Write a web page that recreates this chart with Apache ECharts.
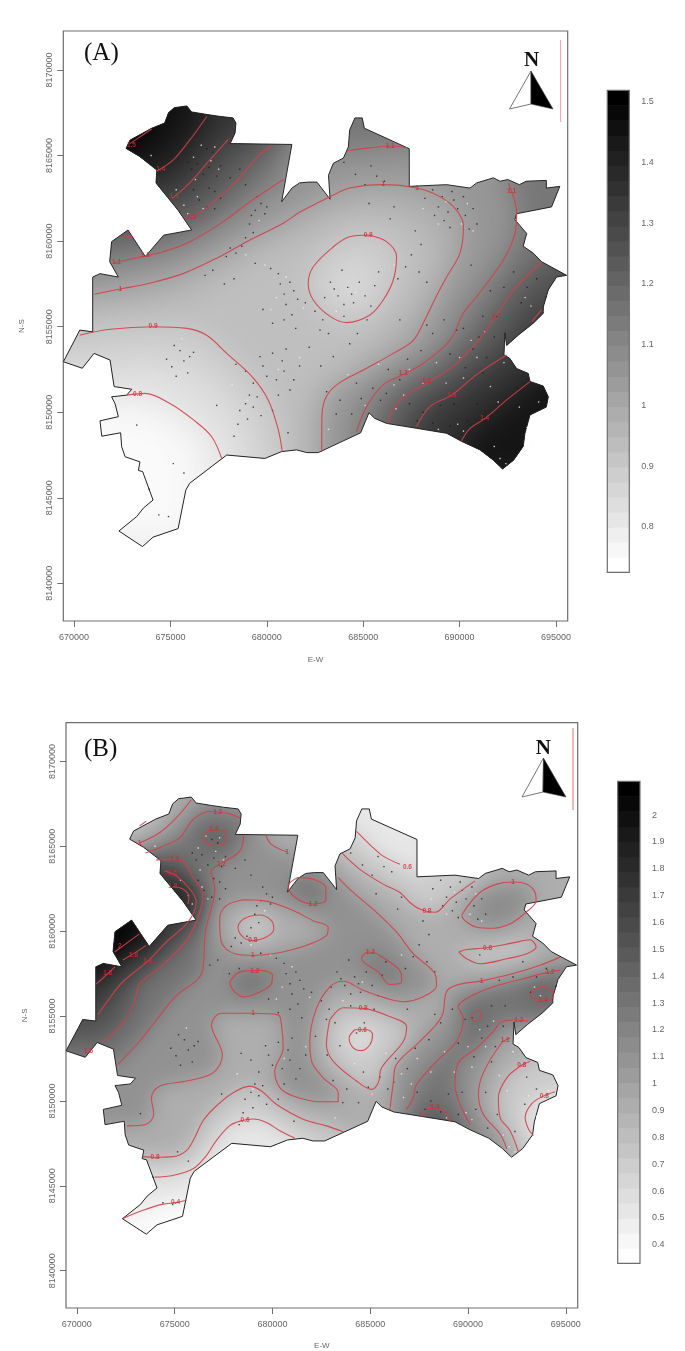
<!DOCTYPE html>
<html><head><meta charset="utf-8">
<style>html,body{margin:0;padding:0;background:#fff}#c{width:685px;height:1351px}</style>
<script src="https://cdn.jsdelivr.net/npm/echarts@6/dist/echarts.min.js"></script>
</head><body><div id="c"></div>
<script>
// All map coordinates in km (easting, northing).
const eastTicks=[670000,675000,680000,685000,690000,695000];
const northTicks=[8140000,8145000,8150000,8155000,8160000,8165000,8170000];
const scaleTicksA=[0.8,0.9,1,1.1,1.2,1.3,1.4,1.5];
const scaleTicksB=[0.4,0.5,0.6,0.7,0.8,0.9,1,1.1,1.2,1.3,1.4,1.5,1.6,1.7,1.8,1.9,2];

const boundary=[[672.7,8165.42],[672.9,8165.9],[674.03,8166.6],[674.7,8166.9],[674.9,8167.5],[675.2,8167.8],[675.85,8167.9],[676.1,8167.55],[676.9,8167.4],[677.5,8167.3],[678.25,8167.2],[678.4,8166.9],[678.35,8166.3],[678.1,8165.7],[681.3,8165.65],[680.77,8162.3],[681.3,8163.1],[681.7,8163.4],[682.15,8163.45],[682.6,8163.45],[683.28,8162.45],[683.2,8163.85],[683.45,8164.55],[683.97,8164.85],[684.23,8165.5],[684.3,8166.5],[684.57,8167.2],[684.95,8167.2],[685.06,8166.6],[687.39,8165.4],[687.39,8163.2],[689.33,8163.3],[690.54,8163.1],[690.88,8163.4],[691.75,8163.7],[692.1,8163.5],[692.5,8163.6],[693.1,8163.3],[693.45,8163.5],[694.5,8163.55],[694.5,8163.1],[695.2,8163.2],[694.77,8162],[692.96,8161.6],[692.87,8161.25],[693.48,8160.45],[693.3,8159.7],[693.82,8159.3],[694.25,8158.8],[695.55,8158],[695.03,8157.9],[694.6,8157.15],[694.34,8156.15],[694.34,8155.78],[693.82,8155.2],[693.04,8154.5],[692.44,8153.9],[692.35,8154.65],[692.3,8153.35],[692.6,8153.15],[692.96,8152.55],[693.56,8152.27],[693.65,8151.8],[694.34,8151.53],[694.6,8150.9],[694.5,8150.3],[693.65,8149.84],[693.39,8148.77],[693.3,8148],[692.8,8147.2],[692.23,8146.68],[691.75,8147.2],[691.06,8147.8],[690.1,8148.3],[689.33,8148.77],[687.77,8149.06],[686.2,8149.35],[685.6,8149.64],[685.3,8149.97],[684.87,8148.8],[682.67,8147.64],[682.07,8147.64],[681.55,8147.8],[680.77,8147.7],[679.9,8147.3],[677.92,8147.5],[676,8145.85],[675.8,8145.45],[675.4,8143.2],[674.1,8142.7],[673.55,8142.15],[672.33,8143.06],[673.25,8143.9],[673.6,8144.4],[674.1,8144.87],[673.56,8146.53],[673.34,8146.6],[673.42,8147.1],[672.65,8147.4],[672.47,8148],[672.42,8148.8],[671.44,8148.6],[671.35,8149.5],[672.3,8149.74],[672.13,8150.5],[671.95,8150.9],[672.73,8151],[673,8151.34],[672.08,8151.5],[671.87,8153.05],[671.04,8153.44],[670.43,8152.57],[669.45,8152.95],[670.3,8154.8],[670.97,8154.7],[670.97,8157.9],[671.35,8158.1],[672.3,8157.9],[671.85,8158.8],[671.95,8159.97],[672.8,8160.65],[673.7,8159.1],[674.65,8160.35],[676.1,8160.65],[675.4,8161.8],[674.25,8163.4],[674.3,8164.15],[673.4,8164.95]];

// sample points, same survey on both maps
const samplesDark=[[676.9,8165.4],[677.2,8165.2],[675.9,8164.6],[676.1,8164.2],[677,8164.3],[677.4,8163.8],[676.2,8163],[677.3,8162.9],[676.9,8162],[677.3,8161.9],[678.9,8163.3],[678.6,8164.2],[679.7,8162.2],[679.4,8161.8],[679.9,8161.6],[679.1,8161],[679.3,8160.5],[678.7,8159.7],[678.4,8159.3],[677.9,8159.1],[676.8,8158],[677.8,8157.5],[680.2,8158.4],[680.6,8158.1],[681.2,8157.6],[681.4,8157.1],[680.9,8156.9],[681.6,8156.6],[679.8,8156],[680.9,8155.4],[681.5,8154.9],[684,8164.6],[685.4,8164.4],[685.7,8163.8],[686.1,8163.5],[685.3,8162.2],[686.6,8162],[686.4,8161.3],[688.6,8163],[689.1,8162.6],[689.6,8162.9],[688.9,8162],[689.4,8161.7],[689.9,8161.9],[689.2,8161.2],[690.3,8161.5],[690.7,8161.9],[690.9,8161],[688,8159.8],[687.5,8159.2],[687.9,8158.2],[688.3,8157.6],[686.8,8157.8],[685.8,8158.2],[683.9,8158.3],[683.3,8157.6],[684.2,8157.3],[684.8,8157.6],[684.4,8156.9],[683.7,8156.8],[685.1,8156.8],[685.4,8156.2],[684,8156.3],[683,8156.7],[682.5,8155.9],[682.9,8155.4],[675.5,8153.6],[676,8153.25],[675.07,8152.66],[676.2,8153.5],[678.4,8152.8],[679.65,8153.25],[680.3,8153.45],[681,8153.7],[679.8,8152.7],[680.5,8151.9],[681.4,8151.9],[680.9,8152.4],[679.1,8151],[679.3,8150.3],[678.6,8150.1],[679.5,8150.9],[677.4,8150.4],[680.3,8150.1],[678.3,8148.6],[681.1,8148.8],[673.25,8149.25],[675.15,8147],[675.7,8146.45],[674.4,8144],[674.9,8143.9],[673.9,8145.5],[683.8,8150.7],[686.9,8151.9],[687.8,8149.5],[688.6,8154.6],[689.5,8153.4],[690.7,8153.7],[691,8154.4],[689.85,8154.8],[691.9,8155.6],[691.4,8153.2],[690.4,8149.5],[692.4,8148.2],[691,8148.4],[689.5,8149.2],[688.6,8149.35],[684.7,8154.6],[685.2,8155.4],[682.76,8154.8],[684.65,8151.7],[682.8,8152.7],[685.9,8150.7],[686.9,8155.4],[683.45,8153.25],[684.3,8154],[682.2,8153.8],[693.5,8157.3],[694.5,8156.75],[692.3,8157.3],[691.2,8155.6],[685.5,8151.4],[686.2,8151.1],[684.9,8150.8],
[676.4,8164.5],[676.7,8163.9],[677.6,8164.4],[677,8163.1],[676.5,8162.4],[677.6,8162.5],[678.1,8163.7],[679.5,8162.6],[680,8162],[679.2,8161.5],[678.9,8160.2],[678.1,8159.6],[677.2,8158.3],[678.3,8157.8],[679.4,8158.7],[680.7,8157.5],[681,8156.3],[682,8156.4],[681.3,8155.7],[680.3,8155.2],[684.6,8163.9],[685.1,8163.3],[688.2,8162.5],[688.7,8161.5],[689.7,8162.4],[690.2,8162.6],[690.5,8160.7],[689.5,8160.8],[687.7,8160.6],[687.2,8158.5],[684.5,8156.4],[683.5,8157.2],[685.6,8157.4],[684,8155.6],[683.2,8154.6],[675.2,8153.9],[675.7,8153],[675.9,8152.3],[675.3,8152.1],[674.8,8153.1],[678.9,8152.4],[680,8152.1],[679.3,8151.7],[680.8,8153],[681.7,8152.7],[681.2,8151.3],[680.6,8151],[678.9,8150.5],[679,8149.6],[679.7,8149.8],[678.5,8149.3],[683.1,8151.2],[683.6,8149.9],[684.4,8149.9],[686.3,8152.5],[687.3,8153.1],[688,8153.6],[688.3,8155.1],[689.2,8155.4],[690.2,8154.9],[690.3,8152.6],[691.2,8152.3],[691.8,8154.4],[687.4,8150.5],[688.1,8150],[689,8150.4],[689.7,8150.5],[690.9,8150.5],[691.5,8149.2],[692.9,8149.8],[693.5,8150.7],[693,8151.4],[693.2,8156.4],[694,8157.8],[692.8,8158.2],[691.6,8157.1],[690.6,8158.6]];
const samplesLight=[[676.6,8165.6],[677.3,8165.5],[675.3,8163],[676.4,8162.6],[676.7,8161.9],[674,8165],[678.9,8159.2],[679.9,8158.6],[681.9,8156.1],[684.6,8157],[683.6,8155.9],[686.6,8158.6],[689.3,8162.3],[690.1,8161],[690.7,8160.6],[679,8150.7],[678.2,8151.6],[680.6,8152.5],[681.7,8153.2],[684.2,8152.2],[687.4,8152.5],[688.1,8151.7],[690,8153.2],[690.9,8153.2],[691.3,8154.7],[692,8150.6],[692.1,8147.3],[692.4,8147],[693.5,8149.1],[691.8,8148],[686.7,8150.2],[689.9,8149.3],[685.8,8152.8],[693.4,8156.7],[693.7,8156.2],[694.4,8155.9],
[676.2,8164.9],[677.1,8164.7],[677.5,8164.2],[675.7,8162.1],[675.9,8161.6],[676.3,8163.6],[679.6,8161.2],[680.5,8156.7],[681,8157.9],[688.1,8161.9],[688.9,8161],[690.4,8162.2],[687.1,8151],[686.6,8151.6],[685.1,8150.4],[688.8,8152.9],[689.3,8151.7],[690.2,8152],[690.6,8154.2],[691.6,8151.5],[692.3,8152.9],[693.1,8150.3],[694.1,8150.6],[693.8,8148.3],[690.2,8148.9],[688.9,8149],[683.2,8149],[680.2,8156],[675.6,8154.3]];

// ---------- Map A contours ----------
const a15=[[672.9,8165.7],[674.03,8166.55]];
const a14nw=[[674.3,8164.1],[675.15,8164.75],[676,8165.9],[676.9,8167.3]];
const a13nw=[[675.1,8162.5],[676,8163.4],[677.05,8164.75],[678,8165.95]];
const a12nw=[[676.1,8161.4],[677.05,8162.1],[678.45,8163.55],[679.5,8164.9],[680.25,8165.6]];
const a12lobe=[[672.3,8160.2],[673,8160.3]];
const a11nw=[[672.04,8158.74],[673.68,8159.13],[674.63,8159.38],[676.02,8159.97],[677.75,8161.14],[679.13,8162.3],[680.86,8163.6]];
const a11n=[[684.23,8165.3],[685.3,8165.45],[686.4,8165.56],[687.3,8165.45]];
const a10=[[671.05,8156.9],[672.4,8157.2],[673.95,8157.55],[675.65,8158.1],[677.4,8159],[679.1,8160.05],[680.85,8161.05],[681.72,8161.7],[682.75,8162.3],[683.28,8162.6],[684.3,8163.1],[686.04,8163.3],[687.77,8163.1],[688.98,8162.6],[689.85,8161.8],[690.2,8160.85],[690.02,8159.3],[689.33,8157.9],[688.8,8156.8],[688.2,8155.4],[687.6,8154.2],[686.56,8153.44],[685.18,8152.57],[683.62,8151.6],[683,8150.7],[682.85,8149.35],[682.85,8147.7]];
const a11se=[[692.53,8163.4],[692.96,8161.65],[692.87,8160.45],[692.27,8158.9],[690.88,8156.75],[690.19,8155.78],[689.5,8154.2],[688.12,8152.86],[687.08,8152.2],[686.04,8151.6],[685.18,8150.33],[684.66,8148.87]];
const a12se=[[694.25,8158.75],[692.96,8157.35],[691.92,8155.68],[691.06,8154.32],[689.85,8152.86],[688.29,8151.69],[686.9,8150.7],[686.25,8149.35]];
const a13se=[[692.44,8153.35],[690.88,8152.2],[689.59,8151],[688.46,8150.33],[687.77,8149.16]];
const a13tip=[[694.25,8155.98],[693.74,8155.3]];
const a14se=[[693.65,8151.79],[692.44,8150.72],[691.32,8149.64],[690.54,8149.06],[690.1,8148.34]];
const a09island=[[685.26,8160.36],[686.21,8159.97],[686.73,8159.1],[686.56,8157.73],[686.04,8156.56],[685.35,8155.68],[684.14,8155.24],[683.28,8155.6],[682.41,8156.56],[682.15,8157.53],[682.41,8158.5],[683.45,8159.67],[684.3,8160.26],[685.26,8160.36]];
const a09sw=[[670.3,8154.5],[671.87,8154.85],[674.1,8155],[675.85,8154.9],[676.88,8154.5],[677.92,8153.44],[679.3,8152],[680.08,8150.7],[680.6,8148.96],[680.8,8147.7]];
const a08sw=[[672.73,8151],[673.68,8151.1],[675,8150.5],[676.2,8149.55],[677.14,8148.57],[677.66,8147.3]];
const contoursA=[a15,a14nw,a13nw,a12nw,a12lobe,a11nw,a11n,a10,a11se,a12se,a13se,a13tip,a14se,a09island,a09sw,a08sw];
const labelsA=[[672.98,8165.6,'1.5'],[674.5,8164.2,'1.4'],[675.2,8162.6,'1.3'],[676.1,8161.4,'1.2'],[673.7,8159.15,'1.1'],[672.2,8158.75,'1.1'],[672.4,8157.2,'1'],[686.04,8163.3,'1'],[687.8,8163.1,'1'],[686.4,8165.55,'1.1'],[692.7,8162.9,'1.1'],[685.26,8160.36,'0.9'],[674.1,8155,'0.9'],[673.3,8151.05,'0.8'],[687.08,8152.3,'1.1'],[688.29,8151.8,'1.2'],[689.6,8151,'1.3'],[691.3,8149.65,'1.4'],[691.9,8155.6,'1.2']];

// filled regions of map A: [level shown, outline]
const a095=[[668,8155.8],[672,8156],[674,8156.3],[676,8157],[678,8158.3],[680,8159.6],[682,8160.6],[684,8161.6],[686,8161.8],[688,8161],[688.9,8159.5],[688.4,8157.8],[687.4,8156],[686.2,8154.5],[684.5,8153],[682.5,8151.5],[681.9,8149.5],[681.9,8145],[668,8145]];
const a085sw=[[668,8152.8],[671,8152.8],[673.5,8153.1],[676,8152.8],[677.5,8151.5],[678.6,8149.9],[679.2,8148],[679.5,8146],[668,8146]];
const a085island=[[684.5,8158.4],[683.6,8158],[683.5,8157],[684.3,8156.6],[685.2,8157],[685.3,8157.9]];
const a075sw=[[668,8150],[672,8150],[673.5,8149.9],[675,8149],[676,8148],[676.2,8146.5],[675.9,8143],[668,8143]];
const regionsA=[
 [1.15,[[668,8158.4],...a11nw,[681.2,8166.5],[681.2,8172],[668,8172]]],
 [1.15,[[682.5,8165.2],...a11n,[690,8165.7],[690,8172],[682.5,8172]]],
 [1.15,[[692.4,8165.5],...a11se,[684.4,8146],[697.5,8146],[697.5,8165.5]]],
 [1.25,[[668,8160.1],[672.3,8160.2],[673,8160.3],[674.3,8160.9],...a12nw,[681,8166.5],[681,8172],[668,8172]]],
 [1.25,[[695.5,8160],...a12se,[685.8,8146],[697.5,8146],[697.5,8160]]],
 [1.35,[[673.5,8162.3],...a13nw,[679.5,8166.5],[679.5,8172],[668,8172],[668,8162.3]]],
 [1.35,[[695.5,8157],...a13tip,...a13se,[687.3,8146],[697.5,8146],[697.5,8157]]],
 [1.45,[[672.5,8163.9],...a14nw,[677.2,8172],[668,8172],[668,8163.9]]],
 [1.45,[[695,8153],...a14se,[689.6,8146],[697.5,8146],[697.5,8153]]],
 [1.52,[[671.8,8164.8],...a15,[675.2,8172],[668,8172],[668,8164.8]]],
 [0.975,[[668,8156.6],...a10,[682.85,8140],[668,8140]]],
 [0.925,a095],
 [0.875,[[668,8154.2],...a09sw,[680.8,8140],[668,8140]]],
 [0.875,a09island],
 [0.825,a085sw],[0.825,a085island],
 [0.775,[[668,8150.9],...a08sw,[677.7,8140],[668,8140]]],
 [0.74,a075sw]
];

// ---------- Map B contours ----------
const b10nw=[[673.2,8165.2],[674.23,8165.8],[675.08,8166.67],[675.85,8167.74]];
const b08tip=[[673.2,8166.2],[673.55,8166.47]];
const b12top=[[673.51,8164.6],[674.4,8165],[675.26,8165.5],[675.94,8166.57],[676.79,8167.05],[677.64,8166.96],[678.36,8166.66]];
const b12c=[[672.1,8152.14],[673.2,8153.5],[673.89,8154.5],[675,8156.1],[676.41,8157.6],[676.57,8159.94],[677.05,8162.48],[676.87,8163.55],[677.3,8163.94],[678.33,8164.72],[678.53,8165.7]];
const b14a=[[671.33,8153.5],[672.35,8154.6],[672.95,8155.85],[673.2,8156.9],[674.06,8157.7],[675.08,8158.77],[675.77,8159.75],[676.28,8161.1],[676.45,8162.18],[675.94,8163.16],[675.42,8164.13],[675,8164.23],[674.06,8164.2]];
const b16a=[[671.07,8155.07],[671.67,8156.04],[672.35,8157.02],[673.63,8158.23],[674.57,8159.36],[675.68,8160.53],[676.1,8161.7],[675.85,8162.38],[675.08,8163.26],[674.49,8163.55]];
const b18pocket=[[674.91,8162.63],[675.42,8162.48],[675.73,8162],[675.68,8161.6]];
const b18a=[[670.99,8156.88],[671.58,8157.5],[671.95,8157.9]];
const b18b=[[672.35,8158.3],[673,8158.75],[673.55,8159.16]];
const b20=[[671.93,8158.77],[673.2,8159.84]];
const b10top=[[679.66,8165.63],[679.95,8165.1],[680.75,8164.66]];
const b12lobe=[[681.3,8163.16],[680.8,8162.67],[681.14,8162],[682.08,8161.6],[682.73,8161.85],[682.73,8162.57],[682.08,8163.06],[681.3,8163.16]];
const b14circle=[[676.45,8165.5],[676.79,8165.94],[677.47,8165.98],[677.64,8165.5],[677.47,8165.1],[676.96,8165.05],[676.53,8165.24],[676.45,8165.5]];
const b10west=[[678.5,8161.85],[677.64,8161.5],[677.3,8160.72],[677.39,8159.35],[678.07,8158.67],[679,8158.57],[680.89,8158.87],[682.76,8159.74],[682.85,8160.23],[682.08,8160.62],[680.89,8161.3],[679.52,8161.8],[678.5,8161.85]];
const b08west=[[678.84,8160.88],[679.35,8160.95],[679.95,8160.62],[680.07,8160.13],[679.69,8159.65],[679,8159.45],[678.5,8159.65],[678.24,8160.23],[678.41,8160.62],[678.84,8160.88]];
const b12small=[[677.82,8157],[678.33,8157.6],[679.35,8157.69],[680,8157.4],[679.95,8156.9],[679.18,8156.33],[678.5,8156.13],[677.99,8156.52],[677.82,8157]];
const b10main=[[672.56,8148.53],[673.55,8148.63],[673.93,8149.22],[673.81,8150.19],[674.23,8150.87],[675.6,8151.17],[676.96,8151.65],[677.44,8152.7],[676.88,8154.48],[677.39,8155.16],[679.01,8155.16],[680.29,8155.07],[680.46,8154.48],[680.55,8153.12],[680.12,8151.75],[680.38,8150.78],[681.06,8150.29],[682.42,8149.95],[683.36,8149.95],[683.36,8150.48],[682.6,8151.36],[682,8152.33],[681.91,8153.5],[682.25,8155.45],[682.94,8156.72],[683.62,8157.05],[684.64,8156.52],[685.84,8156.04],[686.68,8155.84],[687.71,8156.13],[688.39,8156.8],[688.3,8157.5],[687.2,8158.67],[686.35,8159.94],[685.32,8161.11],[684.13,8162.28],[683.36,8163.16]];
const b08island=[[682.93,8154.77],[683.62,8155.49],[684.64,8155.45],[686,8154.97],[686.86,8154.38],[686.69,8153.5],[685.58,8151.95],[685.41,8151.07],[685.07,8150.68],[684.3,8151.17],[683.1,8152.34],[682.76,8153.31],[682.93,8154.77]];
const b06island=[[684.21,8154.19],[683.92,8153.7],[684.13,8153.12],[684.55,8152.96],[684.98,8153.31],[685.12,8153.9],[684.85,8154.19],[684.21,8154.19]];
const b12oval=[[684.55,8158.48],[684.9,8158.77],[685.49,8158.57],[686.6,8157.4],[686.6,8157],[686,8156.86],[685.41,8157.6],[684.64,8158.19],[684.55,8158.48]];
const b06north=[[684.3,8165.88],[684.98,8165.1],[685.66,8164.42],[686.52,8163.94]];
const b08north=[[683.53,8164.62],[684.47,8163.64],[685.66,8162.77],[686.52,8162.28],[687.03,8161.69],[687.54,8161.3],[688.31,8161.11],[689.08,8161.89],[690.36,8162.96]];
const b10loop=[[689.67,8160.91],[689.93,8161.4],[690.61,8162.28],[691.47,8162.77],[692.32,8162.9],[693,8162.77],[693.43,8162.28],[693.48,8161.79],[692.92,8161.07],[692.15,8160.43],[691.3,8160.17],[690.44,8160.23],[689.84,8160.62],[689.67,8160.91]];
const b08oval=[[689.53,8158.77],[689.93,8158.92],[690.95,8159.02],[692.3,8159.31],[693.17,8159.49],[693.48,8159.06],[693,8158.67],[691.97,8158.37],[690.61,8158.08],[689.93,8158.38],[689.53,8158.77]];
const b10east=[[694.71,8158.47],[693.68,8157.99],[692.32,8157.5],[690.69,8157.07],[689.41,8156.82],[688.9,8156.43],[688.65,8154.96],[687.54,8153.5],[686.34,8152.14],[686.17,8150.97],[686,8149.45]];
const b12east=[[694.71,8157.69],[694.19,8157.6],[692.83,8157.2],[691.29,8156.72],[690.1,8156.13],[689.5,8155.55],[689.76,8154.87],[689.41,8153.5],[688.39,8152.33],[687.37,8150.97],[687.2,8150.19],[686.86,8149.5]];
const b12south=[[693.08,8154.71],[692.32,8154.77],[691.72,8154.67],[691.29,8154.09],[690.44,8153.11],[689.5,8152.24],[689.33,8150.97],[689.59,8149.8],[690.1,8148.63]];
const b10se=[[692.15,8153.7],[691.72,8153.41],[690.78,8151.65],[690.53,8150.39],[690.78,8149.22],[691.64,8148.05],[691.98,8147.17]];
const b08se=[[693.17,8152.34],[692.66,8152.04],[691.98,8151.36],[691.55,8150.19],[691.64,8149.02],[692.15,8148.24],[692.58,8146.98]];
const b06se=[[694.45,8150.54],[693.86,8150.29],[693.26,8149.84],[692.92,8149.02],[693.09,8148.34],[693.34,8147.95]];
const b14oval=[[693.17,8156.27],[693.42,8156.58],[693.85,8156.72],[694.28,8156.46],[694.36,8156.13],[693.85,8155.88],[693.34,8156],[693.17,8156.27]];
const b14dot=[[690.13,8154.96],[690.35,8155.3],[690.66,8155.26],[690.69,8154.87],[690.35,8154.67],[690.13,8154.96]];
const b14south=[[687.63,8149.06],[687.88,8149.5],[688.31,8149.6],[688.82,8149.31],[689.11,8148.79]];
const b08south=[[673.35,8146.72],[673.98,8146.68],[674.92,8146.72],[675.6,8147.07],[676.03,8147.85],[676.45,8148.83],[677.13,8149.7],[677.99,8150.48],[678.84,8150.87],[679.44,8150.58],[680.2,8149.8],[681.57,8148.92],[682.76,8148.53],[683.62,8148.18]];
const b06south=[[673.98,8145.51],[674.92,8145.61],[675.94,8146],[676.62,8146.78],[677.13,8147.66],[677.82,8148.54],[678.41,8148.83],[679.01,8148.93],[679.69,8148.73],[680.38,8148.24],[681.14,8147.81]];
const b04south=[[672.36,8143.08],[673.38,8143.56],[674.4,8143.92],[675.05,8144.01],[675.6,8144.15]];
const contoursB=[b10nw,b08tip,b12top,b12c,b14a,b16a,b18pocket,b18a,b18b,b20,b10top,b12lobe,b14circle,b10west,b08west,b12small,b10main,b08island,b06island,b12oval,b06north,b08north,b10loop,b08oval,b10east,b12east,b12south,b10se,b08se,b06se,b14oval,b14dot,b14south,b08south,b06south,b04south];
const labelsB=[[673.2,8165.2,'1'],[677.2,8167,'1.2'],[677,8166,'1.4'],[677.39,8163.97,'1.2'],[675,8164.23,'1.4'],[674.9,8163.4,'1.6'],[674.91,8162.63,'1.8'],[671.58,8157.5,'1.8'],[672.9,8158.6,'1.8'],[672.2,8159.1,'2'],[673.63,8158.23,'1.6'],[680.75,8164.66,'1'],[682.08,8161.6,'1.2'],[679,8159.45,'0.8'],[679,8158.57,'1'],[679.1,8157.65,'1.2'],[679.01,8155.16,'1'],[684.64,8155.45,'0.8'],[684.6,8154.15,'0.6'],[685,8158.75,'1.2'],[686.9,8163.75,'0.6'],[687.9,8161.2,'0.8'],[692.3,8162.9,'1'],[691,8159.02,'0.8'],[690.69,8157.07,'1'],[694.2,8157.6,'1.2'],[692.6,8154.75,'1.2'],[691.9,8153.55,'1.1'],[692.75,8152.1,'0.8'],[693.9,8150.3,'0.8'],[693.85,8155.95,'1.4'],[688.3,8149.6,'1.4'],[674,8146.68,'0.8'],[678.6,8148.88,'0.6'],[675.05,8144.01,'0.4'],[670.6,8152.95,'1.6']];
const b115=[[690.8,8161.5],[691.8,8161.9],[692.5,8161.5],[691.9,8160.9],[691,8160.9]];
const regionsB=[
 [1.3,[...b12c,[679,8166.2],...[...b12top].reverse(),[668,8164],[668,8152.1]]],
 [1.3,b12lobe],[1.3,b12small],[1.3,b12oval],
 [1.3,[...b12east,[686.86,8147],[690.1,8147],...[...b12south].reverse(),[693.5,8154.7],[697.5,8155],[697.5,8157.69]]],
 [1.5,[[668,8153.3],...b14a,[668,8164.2]]],
 [1.5,b14circle],[1.5,b14oval],[1.5,b14dot],
 [1.5,[...b14south,[689.5,8147],[687.3,8147]]],
 [1.7,[[668,8154.8],...b16a,[668,8163.6]]],
 [1.9,[[668,8156.5],...b18a,...b18b,[674.5,8160.2],[668,8160.2]]],
 [1.9,[...b18pocket,[675.3,8161],[674,8161],[673.5,8162.7]]],
 [2.1,[[668,8158],[671,8158],...b20,[674,8161],[668,8161]]],
 [0.9,[...b10main,[682.8,8163.5],[682.8,8172],[697.5,8172],[697.5,8158.7],...b10east,[686,8140],[668,8140],[668,8148.5]]],
 [0.9,[[672.5,8164.8],...b10nw,[676.5,8168.5],[676.5,8172],[668,8172],[668,8164.8]]],
 [0.9,[[679.3,8166.4],...b10top,[681.9,8164.3],[681.9,8166.4]]],
 [0.9,b10west],
 [0.9,[[692.4,8154],...b10se,[692.3,8145],[697.5,8145],[697.5,8154]]],
 [0.7,[[668,8146.7],...b08south,[684.5,8147.5],[684.5,8140],[668,8140]]],
 [0.7,b08island],[0.7,b08west],[0.7,b08oval],
 [0.7,[[682.8,8164.8],...b08north,[691,8164],[691,8172],[682.8,8172]]],
 [0.7,[[694,8153],...b08se,[692.6,8145],[697.5,8145],[697.5,8153]]],
 [0.7,[[672.5,8165.8],...b08tip,[674.2,8167.2],[674.2,8172],[668,8172],[668,8165.8]]],
 [1.1,b10loop],[1.17,b115],
 [0.5,[[668,8145.5],...b06south,[682,8147],[682,8140],[668,8140]]],
 [0.5,b06island],
 [0.5,[[682.8,8166.6],...b06north,[688,8163.2],[688,8172],[682.8,8172]]],
 [0.5,[[695.5,8151],...b06se,[693.8,8146],[697.5,8146]]],
 [0.36,[[671,8142.7],...b04south,[677,8144.4],[677,8140],[671,8140]]]
];

// ---------- layout / scales ----------
const rangeA=[0.725,1.519], rangeB=[0.331,2.126], bands=32;
const extX=[669445,695607], extY=[8137800,8172280];
const m=p=>[p[0]*1000,p[1]*1000];
const grey=(v,r)=>{const t=Math.min(1,Math.max(0,(v-r[0])/(r[1]-r[0])));const g=Math.round(255*(1-t));return `rgb(${g},${g},${g})`;};
const axisC='#6e6e6e', labC='#666';
const font='"Liberation Sans",Arial,sans-serif';

function mapAxes(grid,gapX,gapY){return {
 x:{type:'value',gridIndex:grid,min:extX[0],max:extX[1],name:'E-W',nameLocation:'middle',nameGap:gapX,
    nameTextStyle:{color:labC,fontSize:8,fontFamily:font},
    axisLine:{show:false},splitLine:{show:false},
    axisTick:{show:true,length:6,customValues:eastTicks,lineStyle:{color:axisC}},
    axisLabel:{show:true,customValues:eastTicks,color:labC,fontSize:9,fontFamily:font,margin:12,formatter:v=>String(v)}},
 y:{type:'value',gridIndex:grid,min:extY[0],max:extY[1],name:'N-S',nameLocation:'middle',nameGap:gapY,
    nameTextStyle:{color:labC,fontSize:8,fontFamily:font},
    axisLine:{show:false},splitLine:{show:false},
    axisTick:{show:true,length:6,customValues:northTicks,lineStyle:{color:axisC}},
    axisLabel:{show:true,customValues:northTicks,color:labC,fontSize:9,fontFamily:font,rotate:90,margin:9,formatter:v=>String(v)}}
};}
function scaleAxes(grid,r,ticks){return {
 x:{type:'value',gridIndex:grid,min:0,max:1,show:false},
 y:{type:'value',gridIndex:grid,min:r[0],max:r[1],position:'right',
    axisLine:{show:false},splitLine:{show:false},
    axisTick:{show:true,length:6,customValues:ticks,lineStyle:{color:axisC}},
    axisLabel:{show:true,customValues:ticks,color:labC,fontSize:9,fontFamily:font,margin:12,formatter:v=>String(v)}}
};}
function fieldSeries(idx,base,regions,r,blur){
 const layers=[[base,boundary],...regions];
 return {type:'custom',xAxisIndex:idx,yAxisIndex:idx,silent:true,clip:false,animation:false,z:2,
  data:layers.map((l,i)=>[i,0]),
  renderItem(p,api){
   const l=layers[p.dataIndex],c=grey(l[0],r);
   const clip=boundary.map(q=>api.coord(m(q)));
   const first=p.dataIndex===0, off=first?0:3000;
   const pts=l[1].map(q=>{const a=api.coord(m(q));return [a[0]+off,a[1]];});
   return {type:'polygon',shape:{points:pts},
     style:first?{fill:c}:{fill:c,shadowColor:c,shadowBlur:blur,shadowOffsetX:-off,shadowOffsetY:0},
     clipPath:{type:'polygon',shape:{points:clip}}};
  }};
}
function overlaySeries(idx,contours,labels){
 const out=[];
 const pt=(arr,col,z)=>({type:'scatter',xAxisIndex:idx,yAxisIndex:idx,silent:true,animation:false,z,symbol:'rect',symbolSize:1.4,itemStyle:{color:col},data:arr.map(m)});
 out.push({type:'line',xAxisIndex:idx,yAxisIndex:idx,silent:true,animation:false,z:3,showSymbol:false,symbol:'none',
   data:[...boundary,boundary[0]].map(m),lineStyle:{color:'#262626',width:1}});
 out.push(pt(samplesLight,'#f4f4f4',4),pt(samplesDark,'#1c1c1c',4));
 contours.forEach(c=>out.push({type:'line',xAxisIndex:idx,yAxisIndex:idx,silent:true,animation:false,z:5,showSymbol:false,symbol:'none',smooth:0.35,
   data:c.map(m),lineStyle:{color:'#d2404a',width:1.1,opacity:0.9}}));
 out.push({type:'scatter',xAxisIndex:idx,yAxisIndex:idx,silent:true,animation:false,z:6,symbolSize:0,
   data:labels.map(l=>[l[0]*1000,l[1]*1000,l[2]]),
   label:{show:true,position:'inside',formatter:p=>p.value[2],color:'#cf2a35',fontSize:6.5,fontWeight:'bold',fontFamily:font}});
 return out;
}
function scaleSeries(idx,r){
 const items=[];for(let i=0;i<bands;i++)items.push([i,0]);
 return {type:'custom',xAxisIndex:idx,yAxisIndex:idx,silent:true,animation:false,z:2,data:items,
  renderItem(p,api){
   const i=p.dataIndex,lo=r[0]+(r[1]-r[0])*i/bands,hi=r[0]+(r[1]-r[0])*(i+1)/bands;
   const a=api.coord([0,hi]),b=api.coord([1,lo]);
   const g=Math.round(255*(1-i/(bands-1)));
   return {type:'rect',shape:{x:a[0],y:a[1],width:b[0]-a[0],height:b[1]-a[1]+0.5},style:{fill:`rgb(${g},${g},${g})`}};
  }};
}
const A=mapAxes(0,35,38),B=mapAxes(1,34,37),SA=scaleAxes(2,rangeA,scaleTicksA),SB=scaleAxes(3,rangeB,scaleTicksB);
const gridStyle={show:true,borderColor:axisC,borderWidth:1.2,backgroundColor:'transparent'};

function northArrow(cx,ny,ax,ay,lx,ly,mx,my,rx,ry,barX,barTop,barBot,barW){return [
 {type:'text',z:20,style:{text:'N',x:cx,y:ny,fill:'#111',font:'bold 21px "Liberation Serif",serif',textAlign:'center',textVerticalAlign:'middle'}},
 {type:'polygon',z:20,shape:{points:[[ax,ay],[lx,ly],[mx,my]]},style:{fill:'#fff',stroke:'#777',lineWidth:1}},
 {type:'polygon',z:20,shape:{points:[[ax,ay],[rx,ry],[mx,my]]},style:{fill:'#000',stroke:'#444',lineWidth:0.6}},
 {type:'line',z:20,shape:{x1:barX,y1:barTop,x2:barX,y2:barBot},style:{stroke:'#f0a0a4',lineWidth:barW}}
];}

const chart=echarts.init(document.getElementById('c'),null,{renderer:'canvas'});
chart.setOption({
 animation:false,backgroundColor:'#fff',
 grid:[
  {left:63.3,top:31,width:504.4,height:590,...gridStyle},
  {left:66,top:722.7,width:511.7,height:589.6,...gridStyle},
  {left:607.3,top:90.3,width:22,height:482,...gridStyle,z:10},
  {left:617.7,top:781.3,width:22.3,height:482,...gridStyle,z:10}
 ],
 xAxis:[A.x,B.x,SA.x,SB.x],
 yAxis:[A.y,B.y,SA.y,SB.y],
 series:[
  fieldSeries(0,1.05,regionsA,rangeA,30),
  ...overlaySeries(0,contoursA,labelsA),
  fieldSeries(1,1.1,regionsB,rangeB,20),
  ...overlaySeries(1,contoursB,labelsB),
  scaleSeries(2,rangeA),
  scaleSeries(3,rangeB)
 ],
 graphic:{elements:[
  {type:'text',z:20,style:{text:'(A)',x:84,y:53,fill:'#111',font:'25px "Liberation Serif",serif',textVerticalAlign:'middle'}},
  {type:'text',z:20,style:{text:'(B)',x:84,y:749,fill:'#111',font:'25px "Liberation Serif",serif',textVerticalAlign:'middle'}},
  ...northArrow(531.7,61,531,71,509.5,109,531,104,553,109,560.7,40,122,1),
  ...northArrow(543.3,749,543.5,758,522,797,543,792,566,797,573,728,810,1.5)
 ]}
});
</script></body></html>
